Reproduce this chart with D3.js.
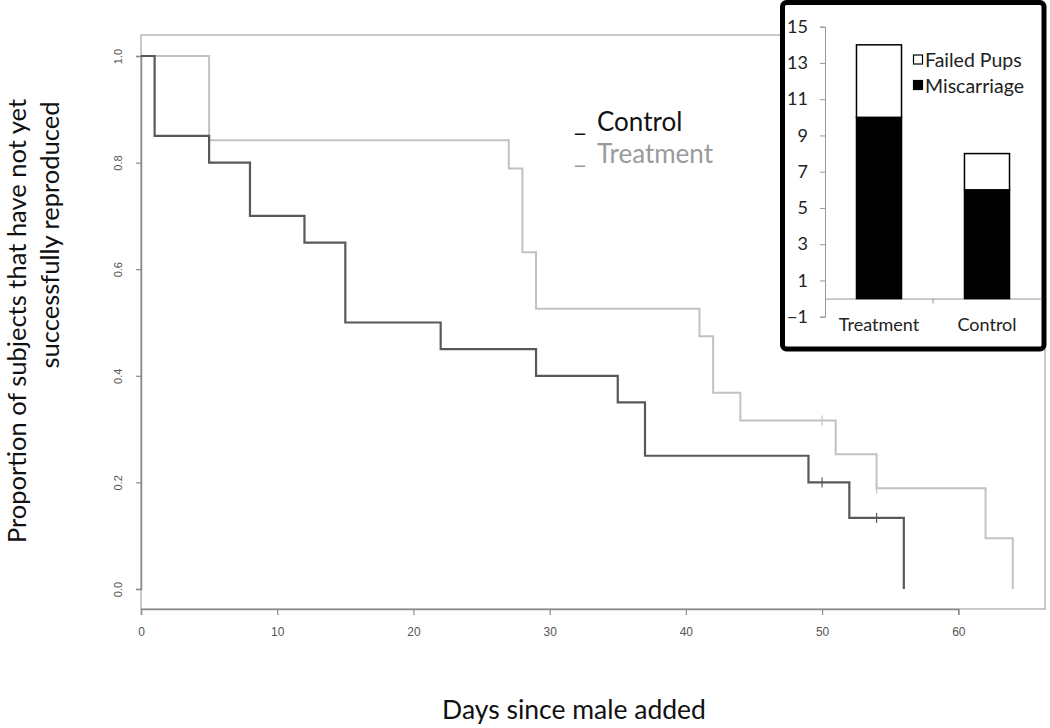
<!DOCTYPE html>
<html>
<head>
<meta charset="utf-8">
<script src="https://cdn.jsdelivr.net/npm/d3@7"></script>
<style>
  html, body { margin: 0; padding: 0; background: #fff; }
  svg { display: block; }
</style>
</head>
<body>
<svg id="chart" width="1050" height="728"></svg>
<script>
// ---- Data ----
const controlTimes = [0, 1, 5, 8, 12, 15, 22, 29, 35, 37, 49, 52, 56];
const controlSurv  = [1, 0.85, 0.80, 0.70, 0.65, 0.50, 0.45, 0.40, 0.35, 0.25, 0.20, 0.1333, 0];
const controlCensor = [50, 54];

const treatTimes = [0, 5, 27, 28, 29, 41, 42, 44, 51, 54, 62, 64];
const treatSurv  = [1, 0.842, 0.789, 0.632, 0.526, 0.474, 0.368, 0.316, 0.253, 0.189, 0.095, 0];
const treatCensor = [50, 54];

const xTicks = [0, 10, 20, 30, 40, 50, 60];
const yTicks = [0, 0.2, 0.4, 0.6, 0.8, 1.0];

const insetCategories = ["Treatment", "Control"];
const miscarriage = [10, 6];
const failedPups = [4, 2];
const insetTicks = [-1, 1, 3, 5, 7, 9, 11, 13, 15];
const insetLegend = ["Failed Pups", "Miscarriage"];

// ---- Setup ----
const svg = d3.select("#chart");
const FONT_T = "Lato, 'Open Sans', sans-serif";
const FONT_R = "'Liberation Sans', Arial, sans-serif";

const x = d3.scaleLinear().domain([0, 60]).range([141, 958.3]);
const y = d3.scaleLinear().domain([0, 1]).range([589, 56]);

// plot box
svg.append("rect")
  .attr("x", 141).attr("y", 35).attr("width", 1045 - 141).attr("height", 609 - 35)
  .attr("fill", "none").attr("stroke", "#b8b8b8").attr("stroke-width", 1.5);

// x axis
const xAxis = d3.axisBottom(x).tickValues(xTicks).tickSize(6).tickFormat(d3.format("d"));
const gx = svg.append("g").attr("transform", "translate(0,609)").call(xAxis);
gx.select(".domain").attr("stroke", "#8a8a8a").attr("stroke-width", 1.5);
gx.selectAll(".tick line").attr("stroke", "#8a8a8a").attr("stroke-width", 1.2);
gx.selectAll(".tick text").attr("font-family", FONT_R).attr("font-size", 12)
  .attr("fill", "#555").attr("y", 18);

// y axis (R-style rotated labels)
const yAxis = d3.axisLeft(y).tickValues(yTicks).tickSize(5).tickFormat(d3.format(".1f"));
const gy = svg.append("g").attr("transform", "translate(141,0)").call(yAxis);
gy.select(".domain").attr("stroke", "#8a8a8a").attr("stroke-width", 1.5);
gy.selectAll(".tick line").attr("stroke", "#8a8a8a").attr("stroke-width", 1.2);
gy.selectAll(".tick text")
  .attr("font-family", FONT_R).attr("font-size", 11).attr("fill", "#555")
  .attr("x", null).attr("dy", null)
  .attr("text-anchor", "middle")
  .attr("transform", "translate(-19,0) rotate(-90)")
  .attr("y", 0);

// ---- Survival curves ----
const stepLine = d3.line().x(d => x(d[0])).y(d => y(d[1])).curve(d3.curveStepAfter);

function survAt(times, surv, t) {
  let v = surv[0];
  for (let i = 0; i < times.length; i++) if (times[i] <= t) v = surv[i];
  return v;
}

function drawCurve(times, surv, censor, color, width) {
  const pts = times.map((t, i) => [t, surv[i]]);
  svg.append("path").datum(pts).attr("d", stepLine)
    .attr("fill", "none").attr("stroke", color).attr("stroke-width", width);
  svg.append("g").selectAll("line").data(censor).join("line")
    .attr("x1", d => x(d)).attr("x2", d => x(d))
    .attr("y1", d => y(survAt(times, surv, d)) - 5)
    .attr("y2", d => y(survAt(times, surv, d)) + 5)
    .attr("stroke", color).attr("stroke-width", 1.2);
}
drawCurve(treatTimes, treatSurv, treatCensor, "#c2c2c2", 2);
drawCurve(controlTimes, controlSurv, controlCensor, "#585858", 2.2);

// ---- Legend ----
const legend = [
  { name: "Control", color: "#111", y: 131 },
  { name: "Treatment", color: "#9a9a9a", y: 163 }
];
const lg = svg.append("g");
lg.selectAll("text.us").data(legend).join("text").attr("class", "us")
  .attr("x", 574).attr("y", d => d.y).text("_")
  .attr("font-family", FONT_T).attr("font-size", 26).attr("fill", d => d.color);
lg.selectAll("text.lab").data(legend).join("text").attr("class", "lab")
  .attr("x", 597).attr("y", d => d.y).text(d => d.name)
  .attr("font-family", FONT_T).attr("font-size", 26).attr("fill", d => d.color);

// ---- Axis titles ----
svg.append("text").attr("x", 574).attr("y", 719).attr("text-anchor", "middle")
  .attr("font-family", FONT_T).attr("font-size", 26.5).attr("fill", "#111")
  .text("Days since male added");
svg.append("text").attr("transform", "translate(26,321) rotate(-90)").attr("text-anchor", "middle")
  .attr("font-family", FONT_T).attr("font-size", 25.5).attr("fill", "#111")
  .text("Proportion of subjects that have not yet");
svg.append("text").attr("transform", "translate(59,235) rotate(-90)").attr("text-anchor", "middle")
  .attr("font-family", FONT_T).attr("font-size", 25.5).attr("fill", "#111")
  .text("successfully reproduced");

// ---- Inset ----
const inset = svg.append("g");
inset.append("rect").attr("x", 782.5).attr("y", 2.5).attr("width", 261.5).attr("height", 346.5)
  .attr("rx", 4).attr("fill", "#fff").attr("stroke", "#000").attr("stroke-width", 5);

const iy = d3.scaleLinear().domain([-1, 15]).range([316.7, 26.7]);
const ix = d3.scaleBand().domain(insetCategories).range([825, 1041])
  .paddingInner(0.583).paddingOuter(0.2915);

const giy = inset.append("g").attr("transform", "translate(825,0)")
  .call(d3.axisLeft(iy).tickValues(insetTicks).tickSize(5).tickFormat(d3.format("d")));
giy.select(".domain").attr("stroke", "#999").attr("stroke-width", 1);
giy.selectAll(".tick line").attr("stroke", "#999");
giy.selectAll(".tick text").attr("font-family", FONT_T).attr("font-size", 18)
  .attr("fill", "#222").attr("x", -17);

// category axis at 0
const gix = inset.append("g").attr("transform", `translate(0,${iy(0)})`)
  .call(d3.axisBottom(ix).tickSize(0).tickFormat(""));
gix.select(".domain").attr("stroke", "#999").attr("stroke-width", 1);
gix.selectAll(".tick").remove();
inset.append("line").attr("x1", (ix.range()[0] + ix.range()[1]) / 2).attr("x2", (ix.range()[0] + ix.range()[1]) / 2)
  .attr("y1", iy(0)).attr("y2", iy(0) + 5).attr("stroke", "#999");
inset.selectAll("text.cat").data(insetCategories).join("text").attr("class", "cat")
  .attr("x", d => ix(d) + ix.bandwidth() / 2).attr("y", 331).attr("text-anchor", "middle")
  .attr("font-family", FONT_T).attr("font-size", 18).attr("fill", "#222").text(d => d);

// stacked bars
const stackData = insetCategories.map((c, i) => ({ cat: c, Miscarriage: miscarriage[i], "Failed Pups": failedPups[i] }));
const stack = d3.stack().keys(["Miscarriage", "Failed Pups"])(stackData);
const fills = { "Miscarriage": "#000", "Failed Pups": "#fff" };
inset.selectAll("g.layer").data(stack).join("g").attr("class", "layer")
  .attr("fill", d => fills[d.key])
  .selectAll("rect").data(d => d).join("rect")
  .attr("x", d => ix(d.data.cat)).attr("width", ix.bandwidth())
  .attr("y", d => iy(d[1])).attr("height", d => iy(d[0]) - iy(d[1]))
  .attr("stroke", "#000").attr("stroke-width", 1.5);

// inset legend
const il = inset.append("g");
il.selectAll("rect").data(insetLegend).join("rect")
  .attr("x", 913.5).attr("y", (d, i) => 55 + i * 25.5).attr("width", 9).attr("height", 9)
  .attr("fill", d => fills[d]).attr("stroke", "#000").attr("stroke-width", 1.2);
il.selectAll("text").data(insetLegend).join("text")
  .attr("x", 925).attr("y", (d, i) => 67 + i * 26)
  .attr("font-family", FONT_T).attr("font-size", 19.5).attr("fill", "#222").text(d => d);
</script>
</body>
</html>
